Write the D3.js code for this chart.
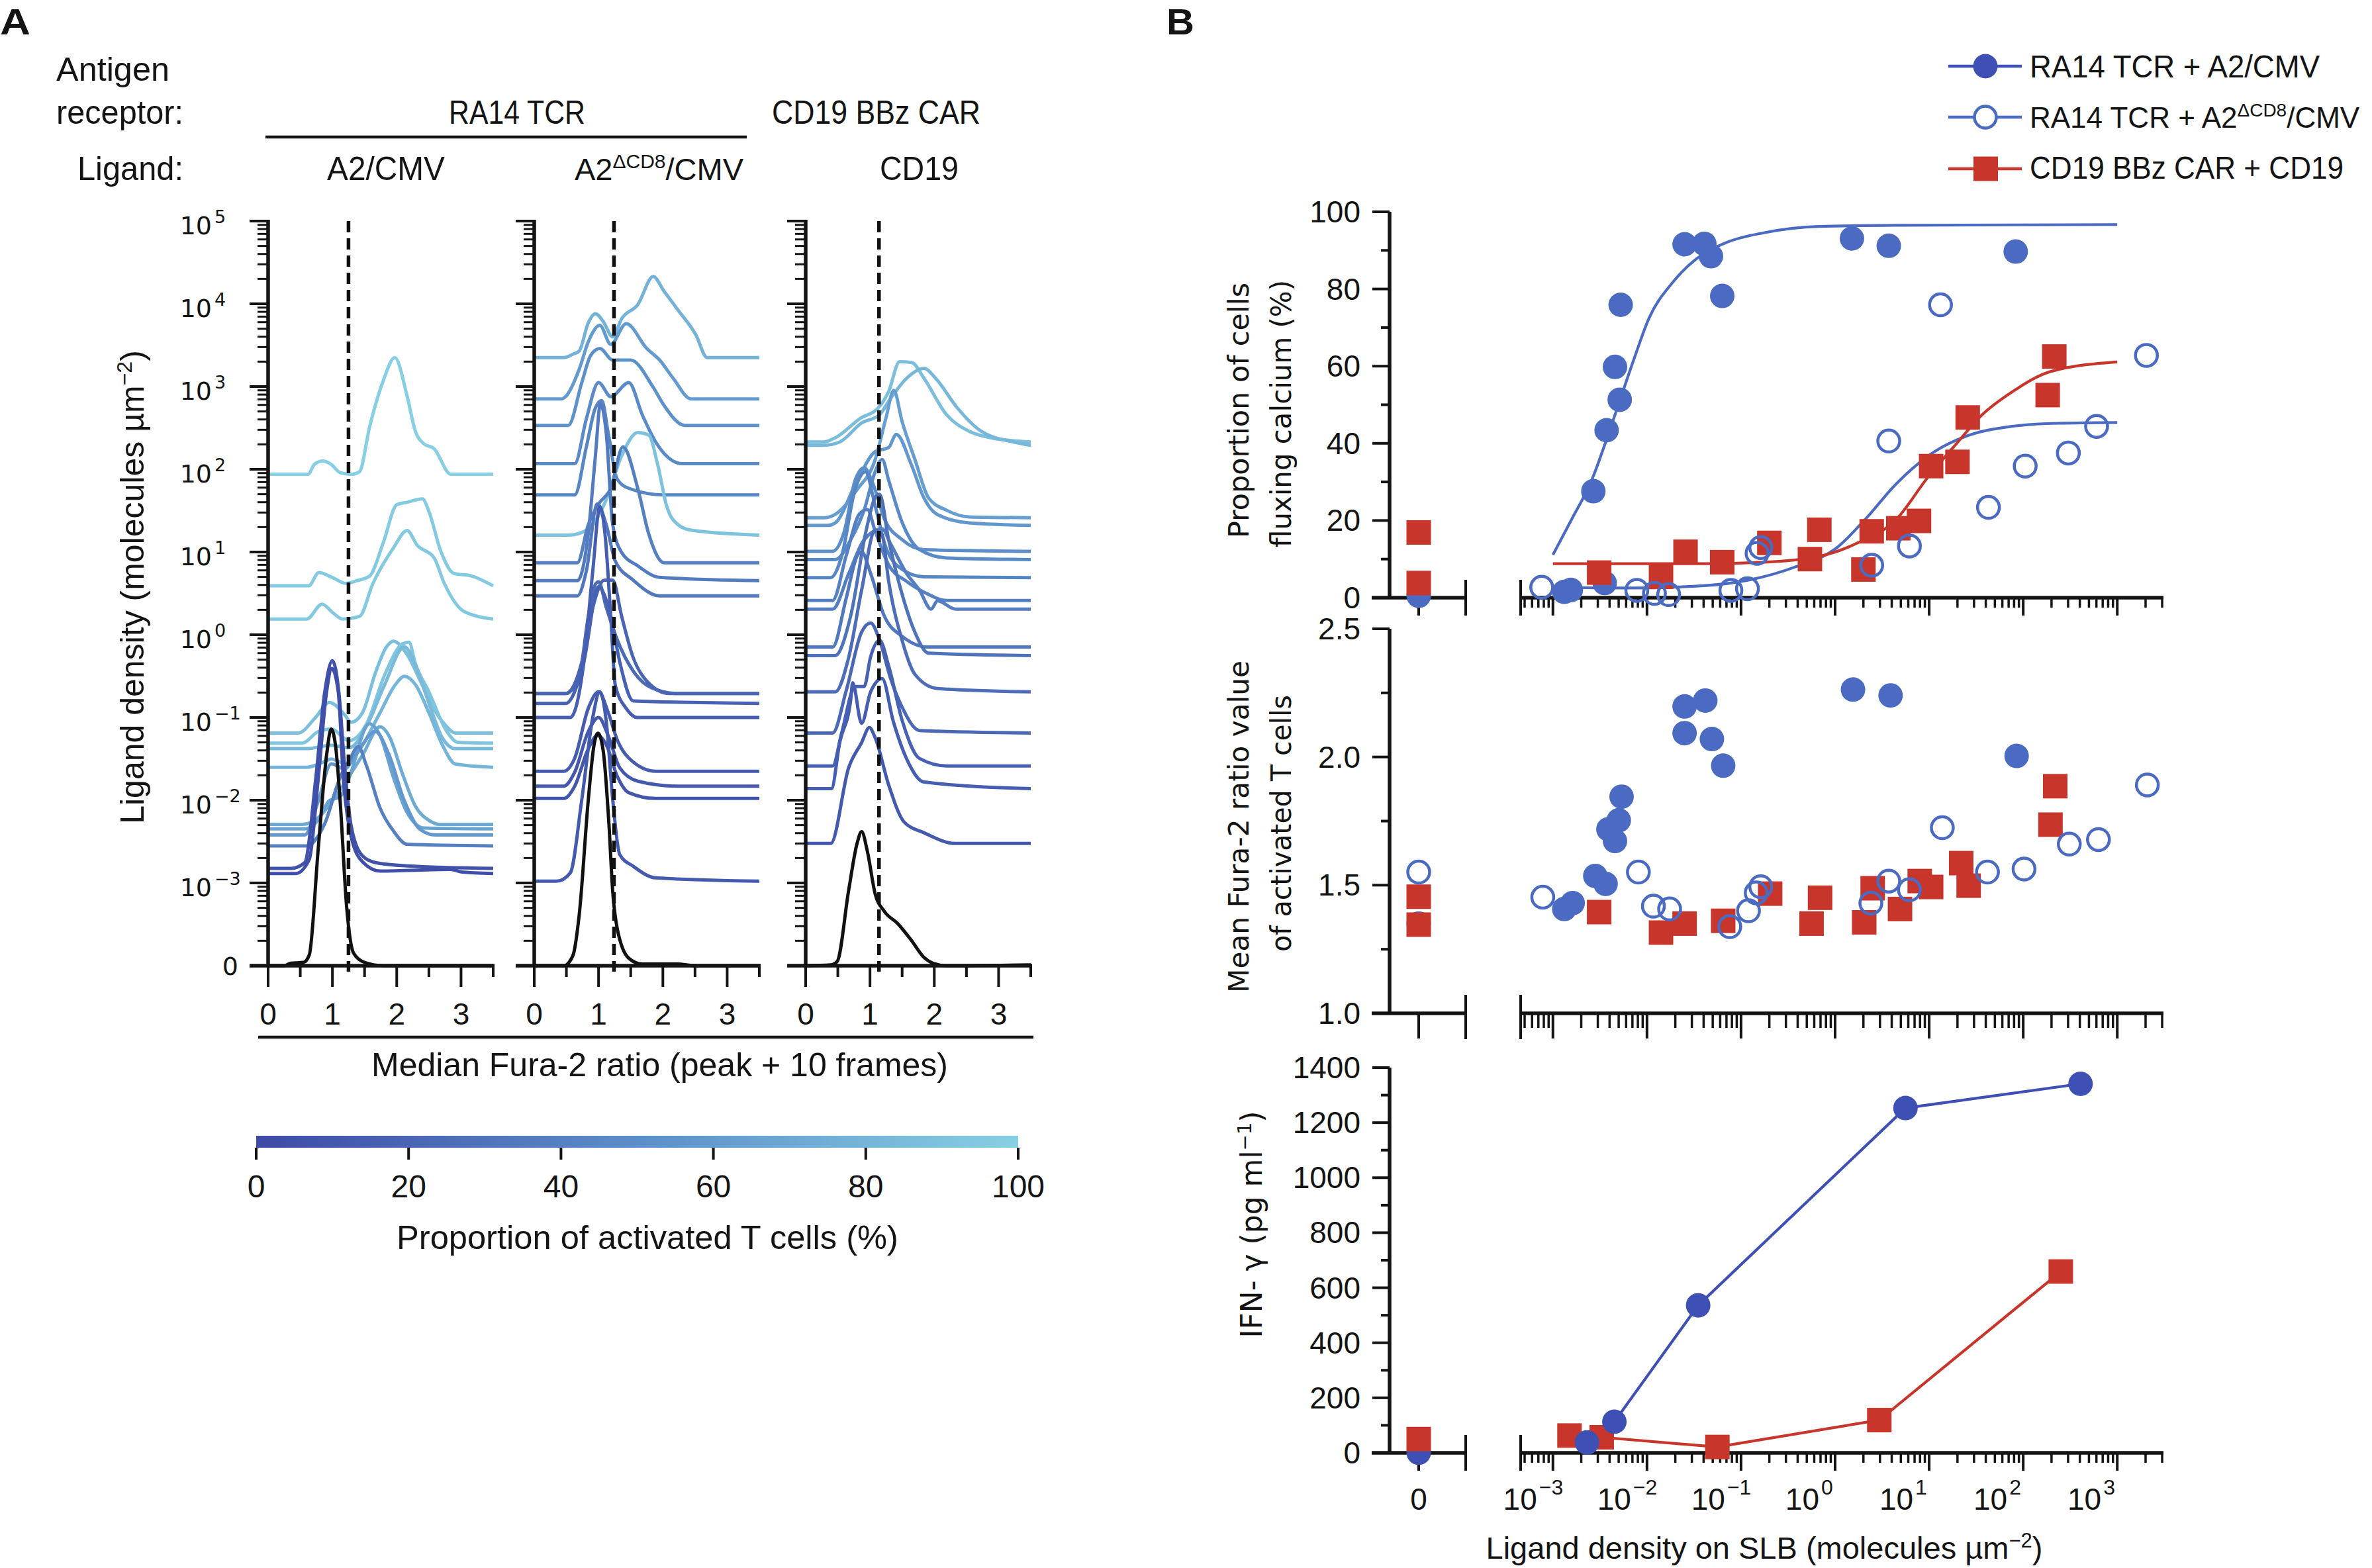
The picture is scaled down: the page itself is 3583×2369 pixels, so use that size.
<!DOCTYPE html>
<html><head><meta charset="utf-8">
<script src="https://cdn.jsdelivr.net/npm/d3@7"></script>
<style>body{margin:0;background:#fff}svg{display:block}</style>
</head><body>
<svg id="c" width="3583" height="2369"></svg>
<script>
// ================= DATA =================
// Panel A: ridge curves. density = ligand density (molecules/um2, 0 = no ligand),
// pct = proportion of activated T cells (%), pts = [ratio, height above baseline in decades]
const curvesA2CMV = [
 {density:87, pct:100, pts:[[0,0],[0.62,0],[0.72,0.12],[0.85,0.16],[0.98,0.12],[1.12,0.02],[1.3,0],[1.42,0.03],[1.58,0.58],[1.79,1.13],[1.97,1.41],[2.16,0.95],[2.29,0.52],[2.42,0.37],[2.58,0.31],[2.84,0],[3.5,0]]},
 {density:3.9, pct:97, pts:[[0,0],[0.63,0],[0.79,0.16],[1.0,0.1],[1.21,0.03],[1.37,0.06],[1.58,0.12],[1.79,0.52],[2.0,0.98],[2.16,1.01],[2.4,1.05],[2.5,0.9],[2.68,0.43],[2.89,0.15],[3.16,0.12],[3.5,0]]},
 {density:1.55, pct:95, pts:[[0,0],[0.6,0],[0.84,0.18],[1.0,0.08],[1.16,0],[1.42,0.03],[1.63,0.43],[1.95,0.86],[2.16,1.07],[2.32,0.89],[2.58,0.74],[2.74,0.43],[3.05,0.09],[3.5,0]]},
 {density:0.065, pct:88, pts:[[0,0],[0.47,0],[0.74,0.19],[0.95,0.37],[1.19,0.22],[1.29,0.13],[1.47,0.25],[1.67,0.73],[1.84,1.04],[1.95,1.11],[2.16,0.95],[2.36,0.64],[2.57,0.3],[2.74,0.11],[2.91,0],[3.5,0]]},
 {density:0.049, pct:92, pts:[[0,0],[0.53,0],[0.78,0.14],[0.98,0.17],[1.26,0.03],[1.53,0.23],[1.81,0.82],[2.09,1.2],[2.19,1.22],[2.29,0.96],[2.5,0.62],[2.78,0.14],[2.95,0.01],[3.5,0]]},
 {density:0.042, pct:84, pts:[[0,0],[0.6,0],[0.98,0.04],[1.26,0.01],[1.53,0.27],[1.81,0.77],[2.12,1.23],[2.29,1.01],[2.5,0.55],[2.71,0.13],[2.91,0],[3.5,0]]},
 {density:0.025, pct:80, pts:[[0,0],[0.6,0],[0.88,0.07],[0.98,0.1],[1.22,0.04],[1.47,0.27],[1.74,0.66],[1.98,1.0],[2.12,1.1],[2.29,1.0],[2.5,0.66],[2.71,0.27],[2.91,0.04],[3.5,0]]},
 {density:0.0051, pct:72, pts:[[0,0],[0.53,0],[0.78,0.08],[0.98,0.27],[1.19,0.5],[1.47,0.84],[1.74,1.18],[1.88,1.07],[2.09,0.61],[2.29,0.22],[2.5,0.05],[2.67,0],[3.5,0]]},
 {density:0.0045, pct:66, pts:[[0,0],[0.57,0],[0.78,0.11],[0.95,0.34],[1.12,0.39],[1.26,0.62],[1.57,1.27],[1.74,1.13],[1.95,0.62],[2.16,0.2],[2.43,0.01],[3.5,0]]},
 {density:0.0038, pct:58, pts:[[0,0],[0.57,0],[0.78,0.41],[0.98,0.86],[1.19,0.8],[1.36,0.97],[1.67,1.25],[1.88,0.97],[2.12,0.41],[2.36,0.07],[2.6,0],[3.5,0]]},
 {density:0.0028, pct:40, pts:[[0,0],[0.6,0],[0.88,0.27],[1.12,0.83],[1.26,1.03],[1.4,1.2],[1.53,0.97],[1.74,0.46],[1.95,0.18],[2.16,0.02],[3.5,0]]},
 {density:0.0015, pct:6, pts:[[0,0],[0.36,0],[0.57,0.07],[0.74,1.08],[0.88,2.13],[1.0,2.51],[1.1,2.13],[1.19,1.23],[1.29,0.52],[1.47,0.15],[1.67,0.07],[2.16,0.03],[3.5,0]]},
 {density:0.0013, pct:4, pts:[[0,0],[0.43,0],[0.64,0.17],[0.78,1.15],[0.91,2.2],[0.99,2.48],[1.09,2.2],[1.17,1.15],[1.29,0.45],[1.47,0.14],[1.74,0.03],[2.84,0.05],[3.0,0.02],[3.5,0]]},
 {density:0, pct:null, pts:[[0,0],[0.25,0],[0.35,0.03],[0.55,0.04],[0.64,0.13],[0.78,1.42],[0.91,2.55],[0.98,2.86],[1.05,2.65],[1.12,1.99],[1.22,0.72],[1.33,0.15],[1.5,0.04],[1.8,0],[3.5,0]]}
];
const curvesA2dCD8 = [
 {density:2240, pct:78, pts:[[0,0],[0.46,0],[0.6,0.04],[0.7,0.08],[0.84,0.42],[0.95,0.53],[1.07,0.44],[1.22,0.25],[1.36,0.47],[1.61,0.64],[1.85,0.98],[2.02,0.8],[2.23,0.58],[2.51,0.28],[2.69,0],[3.5,0]]},
 {density:708, pct:60, pts:[[0,0],[0.42,0],[0.49,0.03],[0.7,0.36],[0.84,0.69],[1.02,0.89],[1.19,0.66],[1.43,0.91],[1.75,0.61],[1.95,0.47],[2.16,0.25],[2.44,0],[3.5,0]]},
 {density:339, pct:52, pts:[[0,0],[0.53,0],[0.74,0.52],[0.88,0.85],[1.02,0.93],[1.22,0.79],[1.5,0.79],[1.85,0.46],[2.02,0.24],[2.34,0],[3.5,0]]},
 {density:117, pct:48, pts:[[0,0],[0.63,0],[0.81,0.54],[1.0,0.98],[1.19,0.81],[1.47,0.98],[1.68,0.59],[1.89,0.26],[2.3,0],[3.5,0]]},
 {density:49, pct:44, pts:[[0,0],[0.63,0],[0.81,0.58],[0.95,1.05],[1.05,1.14],[1.15,0.75],[1.29,0.19],[1.47,0.08],[2.02,0],[3.5,0]]},
 {density:16, pct:90, pts:[[0,0],[0.53,0],[0.84,0.07],[1.12,0.43],[1.36,0.96],[1.61,1.24],[1.78,1.21],[1.92,0.85],[2.06,0.35],[2.23,0.13],[2.44,0.06],[3.5,0]]},
 {density:7.4, pct:40, pts:[[0,0],[0.67,0],[0.84,0.46],[1.0,0.71],[1.19,0.9],[1.38,1.4],[1.61,0.9],[1.78,0.35],[2.02,0],[3.5,0]]},
 {density:4.5, pct:36, pts:[[0,0],[0.67,0],[0.84,0.57],[0.95,1.5],[1.03,2.14],[1.12,1.78],[1.22,0.68],[1.36,0.34],[1.61,0.18],[1.95,0.04],[3.5,0]]},
 {density:2.95, pct:34, pts:[[0,0],[0.67,0],[0.81,0.3],[0.98,1.11],[1.12,0.86],[1.26,0.42],[1.54,0.19],[1.95,0],[3.5,0]]},
 {density:0.195, pct:24, pts:[[0,0],[0.49,0],[0.7,0.21],[0.84,0.93],[0.95,1.32],[1.0,1.35],[1.12,1.04],[1.29,0.65],[1.54,0.27],[1.82,0.07],[2.23,0],[3.5,0]]},
 {density:0.195, pct:20, pts:[[0,0],[0.49,0],[0.74,0.38],[0.91,1.04],[1.09,1.37],[1.22,1.37],[1.36,0.93],[1.54,0.43],[1.75,0.15],[2.1,0],[3.5,0]]},
 {density:0.148, pct:18, pts:[[0,0],[0.49,0],[0.77,0.5],[1.0,1.41],[1.19,1.05],[1.33,0.5],[1.54,0.03],[3.5,0]]},
 {density:0.1, pct:15, pts:[[0,0],[0.56,0],[0.77,0.66],[0.91,1.77],[1.02,2.55],[1.1,2.22],[1.19,1.22],[1.26,0.39],[1.43,0.11],[1.6,0],[3.5,0]]},
 {density:0.0224, pct:13, pts:[[0,0],[0.46,0],[0.63,0.16],[0.84,0.76],[1.0,0.96],[1.15,0.71],[1.29,0.38],[1.47,0.16],[1.89,0],[3.5,0]]},
 {density:0.0148, pct:11, pts:[[0,0],[0.46,0],[0.63,0.17],[0.84,0.66],[1.0,0.83],[1.15,0.61],[1.33,0.22],[1.61,0.06],[2.23,0],[3.5,0]]},
 {density:0.0105, pct:9, pts:[[0,0],[0.46,0],[0.63,0.15],[0.84,0.6],[0.98,0.76],[1.12,0.65],[1.29,0.27],[1.47,0.07],[1.89,0],[3.5,0]]},
 {density:0.00105, pct:12, pts:[[0,0],[0.35,0],[0.56,0.1],[0.74,0.99],[0.91,1.98],[1.02,2.29],[1.12,1.93],[1.22,0.99],[1.33,0.32],[1.54,0.18],[1.89,0.04],[3.5,0]]},
 {density:0, pct:null, pts:[[0,0],[0.46,0],[0.6,0.12],[0.7,0.62],[0.84,2.0],[0.93,2.67],[0.99,2.81],[1.07,2.61],[1.16,1.73],[1.22,0.9],[1.29,0.45],[1.47,0.09],[1.68,0.02],[2.23,0.02],[2.5,0],[3.5,0]]}
];
const curvesCD19 = [
 {density:214, pct:88, pts:[[0,0],[0.28,0],[0.46,0.05],[0.84,0.28],[1.15,0.43],[1.29,0.61],[1.46,0.97],[1.65,0.96],[1.84,0.77],[2.19,0.33],[2.54,0.13],[2.88,0.05],[3.5,0]]},
 {density:195, pct:82, pts:[[0,0],[0.28,0],[0.53,0.04],[0.87,0.27],[1.15,0.37],[1.29,0.53],[1.57,0.81],[1.84,0.93],[2.02,0.81],[2.36,0.45],[2.71,0.18],[3.23,0.04],[3.5,0]]},
 {density:26, pct:62, pts:[[0,0],[0.3,0],[0.46,0.04],[0.8,0.34],[1.08,0.7],[1.25,1.21],[1.37,1.54],[1.5,1.16],[1.7,0.7],[1.91,0.24],[2.19,0.09],[2.54,0.01],[3.5,0]]},
 {density:21, pct:58, pts:[[0,0],[0.35,0],[0.46,0.03],[0.8,0.54],[1.08,0.89],[1.29,0.94],[1.41,1.1],[1.64,0.74],[1.84,0.33],[2.05,0.13],[2.54,0.03],[3.5,0]]},
 {density:10.2, pct:50, pts:[[0,0],[0.42,0],[0.6,0.24],[0.77,0.86],[0.91,1.01],[1.05,0.81],[1.22,0.4],[1.5,0.14],[1.84,0.02],[3.5,0]]},
 {density:8.1, pct:47, pts:[[0,0],[0.46,0],[0.7,0.24],[0.91,0.6],[1.08,1.06],[1.19,1.21],[1.29,0.96],[1.5,0.45],[1.77,0.12],[2.19,0.02],[3.5,0]]},
 {density:4.9, pct:44, pts:[[0,0],[0.39,0],[0.56,0.26],[0.77,1.07],[0.93,1.28],[1.08,0.87],[1.25,0.36],[1.5,0.1],[1.84,0.01],[3.5,0]]},
 {density:2.6, pct:40, pts:[[0,0],[0.42,0],[0.63,0.54],[0.84,1.05],[0.96,1.1],[1.08,0.84],[1.29,0.43],[1.57,0.23],[1.84,0.1],[2.2,0],[3.5,0]]},
 {density:2.04, pct:38, pts:[[0,0],[0.42,0],[0.67,0.43],[0.91,0.84],[1.19,0.97],[1.32,0.79],[1.57,0.43],[1.77,0.23],[1.95,0],[2.05,0.1],[2.33,0],[3.5,0]]},
 {density:0.71, pct:34, pts:[[0,0],[0.42,0],[0.63,0.59],[0.8,1.1],[0.87,1.15],[1.01,0.89],[1.22,0.38],[1.5,0.13],[1.91,0],[3.5,0]]},
 {density:0.56, pct:30, pts:[[0,0],[0.46,0],[0.7,0.48],[0.94,1.51],[1.08,1.91],[1.15,1.95],[1.29,1.4],[1.5,0.74],[1.7,0.28],[1.91,0.03],[3.5,0]]},
 {density:0.204, pct:26, pts:[[0,0],[0.46,0],[0.67,0.42],[0.87,1.23],[1.08,1.95],[1.19,1.89],[1.29,1.34],[1.5,0.62],[1.7,0.21],[2.05,0.04],[3.5,0]]},
 {density:0.065, pct:22, pts:[[0,0],[0.42,0],[0.63,0.51],[0.87,1.22],[1.01,1.33],[1.15,1.12],[1.32,0.66],[1.5,0.31],[1.77,0.03],[3.5,0]]},
 {density:0.026, pct:18, pts:[[0,0],[0.42,0],[0.56,0.4],[0.77,0.96],[0.91,0.96],[1.01,1.32],[1.15,1.52],[1.29,1.21],[1.5,0.55],[1.77,0.09],[2.19,0],[3.5,0]]},
 {density:0.0138, pct:15, pts:[[0,0],[0.4,0],[0.53,0.56],[0.7,1.07],[0.73,1.28],[0.87,0.79],[1.01,1.17],[1.19,1.33],[1.36,0.82],[1.57,0.36],[1.84,0.08],[3.5,0]]},
 {density:0.003, pct:12, pts:[[0,0],[0.39,0],[0.67,0.92],[0.87,1.22],[0.99,1.4],[1.08,1.28],[1.29,0.71],[1.53,0.26],[1.84,0.13],[2.33,0],[3.5,0]]},
 {density:0, pct:null, pts:[[0,0],[0.39,0.01],[0.49,0.05],[0.67,0.92],[0.8,1.48],[0.87,1.62],[0.96,1.38],[1.08,0.87],[1.22,0.66],[1.43,0.51],[1.64,0.31],[1.84,0.1],[1.98,0.03],[2.19,0],[3.5,0.01]]}
];
const thresholdRatios = [1.25, 1.24, 1.14];
const ratioTicks = [0, 1, 2, 3];
const ratioMinorTicks = [0.5, 1.5, 2.5, 3.5];
const densityExponents = [-3, -2, -1, 0, 1, 2, 3, 4, 5];
const colorbarTicks = [0, 20, 40, 60, 80, 100];

// Panel B — top: proportion fluxing calcium (%)
const fluxFilled = [[0.00132,1.5],[0.00155,2.0],[0.00355,3.8],[0.00269,27.6],[0.00372,43.4],[0.00457,59.8],[0.00513,51.3],[0.00525,75.9],[0.0251,91.6],[0.0407,91.7],[0.0479,88.5],[0.0631,78.2],[1.51,93.1],[3.72,91.2],[83.2,89.7]];
const fluxFilledZero = [0.5];
const fluxOpen = [[0.00076,2.7],[0.0078,1.9],[0.012,1.1],[0.017,0.8],[0.078,1.9],[0.117,2.3],[0.148,11.5],[0.162,13.0],[2.45,8.4],[3.72,40.6],[6.17,13.4],[13.2,75.9],[42.7,23.4],[105,34.1],[302,37.5],[603,44.4],[2042,62.8]];
const fluxOpenZero = [];
const fluxCAR = [[0.0031,6.5],[0.0141,5.4],[0.0257,11.9],[0.063,9.2],[0.2,14.2],[0.54,10.0],[0.68,17.6],[2.0,7.3],[2.45,17.2],[4.7,18.0],[7.8,19.9],[10.5,34.1],[20,35.2],[25.7,46.7],[182,52.5],[214,62.5]];
const fluxCARZero = [16.9, 3.8];
const fitFilled = [[0.001,11.1],[0.00158,20.3],[0.00257,30.3],[0.00372,41],[0.005,50.2],[0.00724,61.7],[0.0105,72.4],[0.0186,81.6],[0.0331,87.7],[0.0692,92],[0.178,94.6],[0.676,96.2],[4.47,96.5],[1000,96.7]];
const fitOpen = [[0.001,2.7],[0.006,2.5],[0.04,3.1],[0.123,4.6],[0.38,8],[1.0,12.6],[2.09,20.3],[4.47,29.5],[11.5,37.9],[24.5,41.8],[75.9,44.4],[234,45.2],[1000,45.4]];
const fitCAR = [[0.001,8.8],[0.04,8.8],[0.178,9.2],[0.676,10.7],[1.74,14.2],[4.47,20.3],[9.55,31],[20,40.2],[35.5,47.1],[75.9,53.3],[195,58.6],[1000,61.1]];
// Panel B — middle: mean Fura-2 ratio of activated T cells
const furaFilled = [[0.00132,1.407],[0.00162,1.43],[0.00282,1.536],[0.00363,1.505],[0.00389,1.718],[0.00457,1.672],[0.00501,1.753],[0.00537,1.845],[0.0251,2.197],[0.0251,2.093],[0.0417,2.22],[0.049,2.07],[0.0646,1.966],[1.55,2.263],[3.89,2.24],[85.1,2.004]];
const furaFilledZero = [1.35];
const furaOpen = [[0.00078,1.453],[0.0081,1.551],[0.0117,1.418],[0.0174,1.407],[0.0759,1.338],[0.12,1.40],[0.145,1.47],[0.162,1.494],[2.4,1.43],[3.72,1.516],[6.17,1.482],[13.8,1.724],[41.7,1.551],[102,1.563],[309,1.66],[631,1.678],[2089,1.891]];
const furaOpenZero = [1.551];
const furaCAR = [[0.0031,1.395],[0.0141,1.315],[0.0251,1.35],[0.0646,1.361],[0.204,1.467],[0.562,1.35],[0.692,1.451],[2.04,1.355],[2.51,1.488],[4.9,1.407],[7.94,1.516],[10.5,1.493],[21.9,1.586],[26.3,1.498],[195,1.736],[219,1.886]];
const furaCARZero = [1.455, 1.346];
// Panel B — bottom: IFN-gamma (pg/ml)
const ifnTCR = [[0.0023,37.7],[0.0045,113],[0.035,536],[5.6,1253],[407,1341]];
const ifnTCRZero = [0];
const ifnCAR = [[0.0015,62.8],[0.0033,56.5],[0.056,21.3],[2.95,119],[251,659]];
const ifnCARZero = [50];
const fluxTicks = [0,20,40,60,80,100], fluxMinor = [10,30,50,70,90];
const furaTicks = [1.0,1.5,2.0,2.5], furaMinor = [1.25,1.75,2.25];
const ifnTicks = [0,200,400,600,800,1000,1200,1400], ifnMinor = [100,300,500,700,900,1100,1300];
const decadeExponents = [-3,-2,-1,0,1,2,3];

// ================= DRAWING =================
const FS = "'Liberation Sans', Arial, sans-serif";
const FW = "'DejaVu Sans', Verdana, sans-serif";
const INK = "#141414";
const svg = d3.select("#c");
svg.append("rect").attr("width",3583).attr("height",2369).attr("fill","#fff");

function text(x, y, s, o = {}) {
  const t = svg.append("text").attr("x", x).attr("y", y)
    .attr("font-family", o.ff || FS).attr("font-size", o.fs || 46)
    .attr("text-anchor", o.anchor || "start").attr("fill", INK).text(s);
  if (o.w) t.attr("textLength", o.w).attr("lengthAdjust", "spacingAndGlyphs");
  if (o.bold) t.attr("font-weight", "bold");
  return t;
}
function line(x1, y1, x2, y2, w = 4, col = INK) {
  return svg.append("line").attr("x1", x1).attr("y1", y1).attr("x2", x2).attr("y2", y2)
    .attr("stroke", col).attr("stroke-width", w);
}

// ---- Panel A header ----
text(0, 52, "A", {fs: 56, bold: true, w: 46});
text(85, 122, "Antigen", {fs: 50, w: 171});
text(85, 187, "receptor:", {fs: 50, w: 192});
text(678, 187, "RA14 TCR", {fs: 50, w: 206});
text(1166, 187, "CD19 BBz CAR", {fs: 50, w: 315});
line(401, 207, 1128, 207, 4.5);
text(117, 272, "Ligand:", {fs: 50, w: 160});
text(494, 272, "A2/CMV", {fs: 50, w: 178});
{
  const t = text(868, 272, "", {fs: 47});
  t.append("tspan").text("A2");
  t.append("tspan").attr("dy", -18).attr("font-size", 30).text("ΔCD8");
  t.append("tspan").attr("dy", 18).text("/CMV");
}
text(1329, 272, "CD19", {fs: 50, w: 119});

// ---- Panel A ridge plots ----
const yA = d3.scaleLinear().domain([-4, 5]).range([1459, 334]);
const color = d3.scaleLinear().domain([0, 50, 100]).range(["#3d4aa6", "#5b8ec9", "#87cfe3"]);
const panelsA = [curvesA2CMV, curvesA2dCD8, curvesCD19];
const axisX0 = [405, 807, 1217];
const minorLogs = [];
for (let k = -4; k < 5; k++) for (let m = 2; m <= 9; m++) minorLogs.push(k + Math.log10(m));

panelsA.forEach((curves, i) => {
  const x0 = axisX0[i];
  const xs = d3.scaleLinear().domain([0, 3.5]).range([x0, x0 + 340]);
  curves.forEach(c => {
    const base = c.density > 0 ? Math.log10(c.density) : -4;
    const gen = d3.line().x(d => xs(d[0])).y(d => yA(base + d[1])).curve(d3.curveMonotoneX);
    svg.append("path").attr("d", gen(c.pts)).attr("fill", "none")
      .attr("stroke", c.pct == null ? "#111" : color(c.pct))
      .attr("stroke-width", 5).attr("stroke-linejoin", "round");
  });
  line(xs(thresholdRatios[i]), yA(5), xs(thresholdRatios[i]), 1468, 5.5, "#111").attr("stroke-dasharray", "17,9");
  line(x0, yA(5) - 2, x0, yA(-4) + 2, 5.5);
  d3.range(-4, 6).forEach(k => line(x0 - 28, yA(k), x0, yA(k), 4));
  minorLogs.forEach(v => line(x0 - 16, yA(v), x0, yA(v), 3));
  line(x0 - 28, yA(-4), x0 + 342, yA(-4), 5.5);
  ratioTicks.forEach(v => {
    line(xs(v), yA(-4), xs(v), yA(-4) + 32, 4);
    text(xs(v), 1548, String(v), {fs: 46, anchor: "middle"});
  });
  ratioMinorTicks.forEach(v => line(xs(v), yA(-4), xs(v), yA(-4) + 17, 4));
});
// y labels panel A
text(360, yA(-4) + 14, "0", {ff: FW, fs: 38, anchor: "end"});
densityExponents.forEach(k => {
  text(320, yA(k) + 20, "10", {ff: FW, fs: 38, anchor: "end"});
  text(324, yA(k) + 3, k < 0 ? "\u2212" + (-k) : String(k), {ff: FW, fs: 27, anchor: "start"});
});
{
  const t = svg.append("text").attr("transform", "translate(217,887) rotate(-90)")
    .attr("text-anchor", "middle").attr("font-family", FS).attr("font-size", 50).attr("fill", INK);
  t.append("tspan").text("Ligand density (molecules \u00b5m");
  t.append("tspan").attr("dy", -18).attr("font-size", 32).text("\u22122");
  t.append("tspan").attr("dy", 18).text(")");
}
line(390, 1567, 1561, 1567, 4.5);
text(561, 1626, "Median Fura-2 ratio (peak + 10 frames)", {fs: 50, w: 871});

// colorbar
const defs = svg.append("defs");
const grad = defs.append("linearGradient").attr("id", "cb");
[0, 50, 100].forEach(p => grad.append("stop").attr("offset", p + "%").attr("stop-color", color(p)));
const xcb = d3.scaleLinear().domain([0, 100]).range([387, 1538]);
svg.append("rect").attr("x", xcb(0)).attr("y", 1716).attr("width", xcb(100) - xcb(0)).attr("height", 18).attr("fill", "url(#cb)");
colorbarTicks.forEach(v => {
  line(xcb(v), 1734, xcb(v), 1752, 4);
  text(xcb(v), 1809, String(v), {fs: 48, anchor: "middle"});
});
text(599, 1887, "Proportion of activated T cells (%)", {fs: 50, w: 758});

// ---- Panel B ----
text(1762, 52, "B", {fs: 56, bold: true, w: 42});
const BLUE = "#4a6bc1", BLUE_D = "#3e50b4", RED = "#c8352a";
const xB = d3.scaleLog().domain([5e-4, 3000]).range([2303, 3266]);
const xZero = d3.scalePoint().domain(["0"]).range([2072, 2214]).padding(0.5);
const yAxB = 2099;
const plots = [
  {y: d3.scaleLinear().domain([0, 100]).range([903, 320]), major: fluxTicks, minor: fluxMinor, fmt: d => String(d), tl: [27, 15], brk: [27, 27]},
  {y: d3.scaleLinear().domain([1, 2.5]).range([1531, 950]), major: furaTicks, minor: furaMinor, fmt: d3.format(".1f"), tl: [38, 22], brk: [28, 39]},
  {y: d3.scaleLinear().domain([0, 1400]).range([2195, 1613]), major: ifnTicks, minor: ifnMinor, fmt: d => String(d), tl: [27, 15], brk: [27, 27]}
];
const minorB = [];
for (let k = -4; k <= 3; k++) for (let m = 2; m <= 9; m++) {
  const v = m * Math.pow(10, k);
  if (v >= 5e-4 && v <= 3000) minorB.push(v);
}
plots.forEach(p => {
  const y0 = p.y.range()[0], y1 = p.y.range()[1];
  line(yAxB, y1, yAxB, y0 + 2, 5.5);
  p.major.forEach(v => { line(yAxB - 26, p.y(v), yAxB, p.y(v), 4); text(2055, p.y(v) + 16, p.fmt(v), {fs: 46, anchor: "end"}); });
  p.minor.forEach(v => line(yAxB - 13, p.y(v), yAxB, p.y(v), 4));
  line(2072, y0, 2214, y0, 5.5);
  line(2214, y0 - p.brk[0], 2214, y0 + p.brk[1], 4);
  line(2297, y0 - p.brk[0], 2297, y0 + p.brk[1], 4);
  line(2297, y0, xB.range()[1] + 2, y0, 5.5);
  line(xZero("0"), y0, xZero("0"), y0 + p.tl[0], 4);
  decadeExponents.forEach(k => line(xB(Math.pow(10, k)), y0, xB(Math.pow(10, k)), y0 + p.tl[0], 4));
  minorB.forEach(v => line(xB(v), y0, xB(v), y0 + p.tl[1], 3.5));
});
const [pTop, pMid, pBot] = plots;

function fit(data, y, col) {
  const g = d3.line().x(d => xB(d[0])).y(d => y(d[1])).curve(d3.curveMonotoneX);
  svg.append("path").attr("d", g(data)).attr("fill", "none").attr("stroke", col).attr("stroke-width", 4.2);
}
function polyline(data, y, col) {
  const g = d3.line().x(d => xB(d[0])).y(d => y(d[1]));
  svg.append("path").attr("d", g(data)).attr("fill", "none").attr("stroke", col).attr("stroke-width", 4.2);
}
function circles(data, zero, y, col, open) {
  const pts = data.map(d => [xB(d[0]), y(d[1])]).concat(zero.map(v => [xZero("0"), y(v)]));
  pts.forEach(p => {
    svg.append("circle").attr("cx", p[0]).attr("cy", p[1]).attr("r", open ? 16.5 : 18.5)
      .attr("fill", open ? "none" : col).attr("stroke", open ? col : "none").attr("stroke-width", 4.5);
  });
}
function squares(data, zero, y, col) {
  const pts = data.map(d => [xB(d[0]), y(d[1])]).concat(zero.map(v => [xZero("0"), y(v)]));
  pts.forEach(p => svg.append("rect").attr("x", p[0] - 18.5).attr("y", p[1] - 18.5).attr("width", 37).attr("height", 37).attr("fill", col));
}
// top
fit(fitFilled, pTop.y, BLUE); fit(fitOpen, pTop.y, BLUE); fit(fitCAR, pTop.y, RED);
circles(fluxFilled, fluxFilledZero, pTop.y, BLUE, false);
squares(fluxCAR, fluxCARZero, pTop.y, RED);
circles(fluxOpen, fluxOpenZero, pTop.y, BLUE, true);
// middle
circles(furaFilled, furaFilledZero, pMid.y, BLUE, false);
squares(furaCAR, furaCARZero, pMid.y, RED);
circles(furaOpen, furaOpenZero, pMid.y, BLUE, true);
// bottom
polyline(ifnTCR, pBot.y, BLUE_D); polyline(ifnCAR, pBot.y, RED);
circles([], ifnTCRZero, pBot.y, BLUE_D, false);
squares(ifnCAR, ifnCARZero, pBot.y, RED);
circles(ifnTCR, [], pBot.y, BLUE_D, false);

// bottom x labels
text(xZero("0"), 2281, "0", {fs: 46, anchor: "middle"});
decadeExponents.forEach(k => {
  const xt = xB(Math.pow(10, k));
  text(xt - 24, 2281, "10", {fs: 46, anchor: "end"});
  text(xt - 21, 2258, k < 0 ? "\u2212" + (-k) : String(k), {fs: 32, anchor: "start"});
});
{
  const t = text(2665, 2355, "", {fs: 47, anchor: "middle"});
  t.append("tspan").text("Ligand density on SLB (molecules \u00b5m");
  t.append("tspan").attr("dy", -17).attr("font-size", 31).text("\u22122");
  t.append("tspan").attr("dy", 17).text(")");
}
// y titles
function rot(x, y, s, w, fs = 42) {
  const t = svg.append("text").attr("transform", `translate(${x},${y}) rotate(-90)`).attr("text-anchor", "middle")
    .attr("font-family", FW).attr("font-size", fs).attr("fill", INK).text(s);
  if (w) t.attr("textLength", w).attr("lengthAdjust", "spacingAndGlyphs");
  return t;
}
rot(1886, 620, "Proportion of cells", 386);
rot(1950, 625, "fluxing calcium (%)", 404);
rot(1886, 1249, "Mean Fura-2 ratio value", 502);
rot(1950, 1244, "of activated T cells", 388);
{
  const t = rot(1906, 1850, "", null, 44);
  t.append("tspan").text("IFN- \u03b3 (pg ml");
  t.append("tspan").attr("dy", -16).attr("font-size", 29).text("\u22121");
  t.append("tspan").attr("dy", 16).text(")");
}
// legend
const legendY = [100, 177, 255];
const legendTexts = ["RA14 TCR + A2/CMV", "RA14 TCR + A2", "CD19 BBz CAR + CD19"];
legendY.forEach((ly, i) => {
  const col = i === 2 ? RED : (i === 0 ? BLUE_D : BLUE);
  line(2943, ly, 3054, ly, 4.5, col);
  if (i === 0) svg.append("circle").attr("cx", 2999).attr("cy", ly).attr("r", 18.5).attr("fill", col);
  if (i === 1) svg.append("circle").attr("cx", 2999).attr("cy", ly).attr("r", 16.5).attr("fill", "#fff").attr("stroke", col).attr("stroke-width", 4.5);
  if (i === 2) svg.append("rect").attr("x", 2981).attr("y", ly - 18.5).attr("width", 37).attr("height", 37).attr("fill", col);
});
text(3066, 117, legendTexts[0], {fs: 48, w: 438});
{
  const t = text(3066, 193, "", {fs: 44});
  t.append("tspan").text(legendTexts[1]);
  t.append("tspan").attr("dy", -17).attr("font-size", 28).text("\u0394CD8");
  t.append("tspan").attr("dy", 17).text("/CMV");
}
text(3066, 270, legendTexts[2], {fs: 48, w: 474});
</script>
</body></html>
